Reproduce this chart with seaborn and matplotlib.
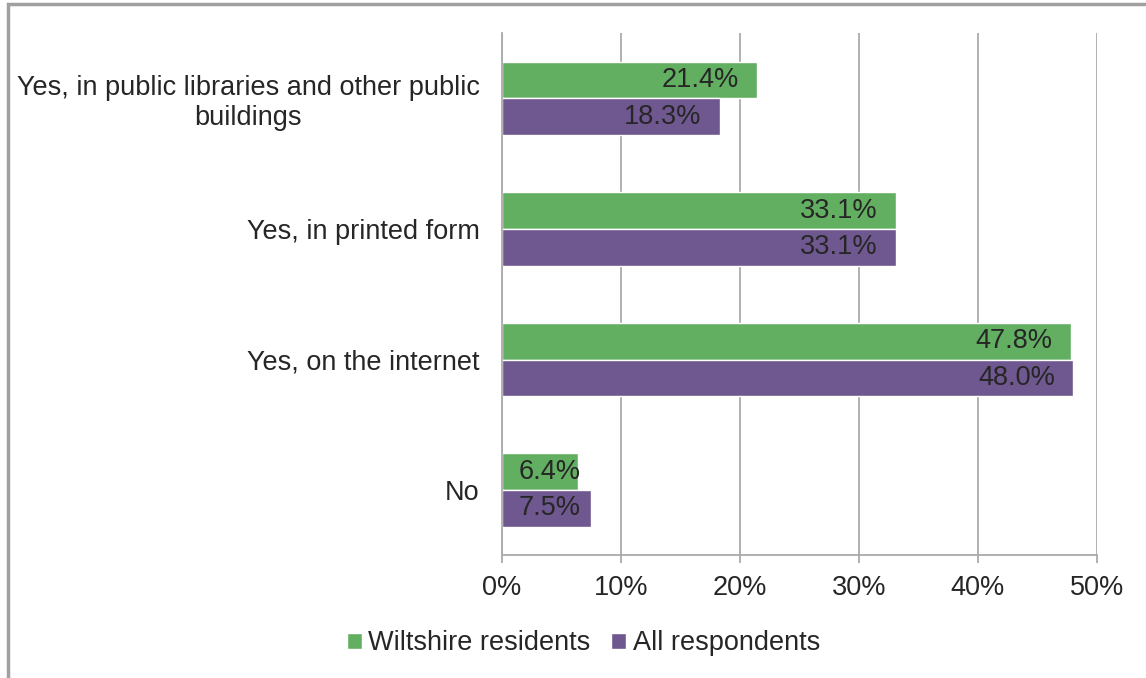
import matplotlib
matplotlib.use("Agg")
import matplotlib.pyplot as plt
import seaborn as sns
import pandas as pd
from matplotlib.patches import Rectangle

# --- DATA ---
categories = [
    "Yes, in public libraries and other public\nbuildings",
    "Yes, in printed form",
    "Yes, on the internet",
    "No",
]
series_names = ["Wiltshire residents", "All respondents"]
wiltshire = [21.4, 33.1, 47.8, 6.4]
all_resp = [18.3, 33.1, 48.0, 7.5]
x_ticks = [0, 10, 20, 30, 40, 50]
x_labels = ["0%", "10%", "20%", "30%", "40%", "50%"]

colors = ["#63AF62", "#6F578F"]
grid_col = "#AAAAAA"
text_col = "#262626"
FS = 19.5

df = pd.DataFrame({
    "category": categories * 2,
    "series": [series_names[0]] * 4 + [series_names[1]] * 4,
    "value": wiltshire + all_resp,
})

sns.set_theme(style="white")
plt.rcParams["font.family"] = ["Liberation Sans", "DejaVu Sans"]

fig = plt.figure(figsize=(11.46, 6.78), dpi=100)
ax = fig.add_axes([0.438, 0.181, 0.519, 0.770])

sns.barplot(data=df, y="category", x="value", hue="series", order=categories,
            hue_order=series_names, palette=colors, width=0.56, saturation=1,
            orient="h", ax=ax, legend=True)

ax.set_xlim(0, 50)
ax.set_ylim(3.5, -0.5)
ax.set_xticks(x_ticks)
ax.set_xticklabels(x_labels, fontsize=FS, color=text_col)
ax.set_yticks(range(len(categories)))
ax.set_yticklabels(categories, fontsize=FS, color=text_col, ha="right",
                   multialignment="center")
ax.tick_params(axis="y", length=0, pad=16)
ax.set_yticks([-0.5, 0.5, 1.5, 2.5, 3.5], minor=True)
ax.tick_params(axis="y", which="minor", length=5, color=grid_col, width=1.3)
ax.tick_params(axis="x", length=6, color=grid_col, width=1.3, pad=8, bottom=True)
ax.set_xlabel("")
ax.set_ylabel("")

ax.grid(axis="x", color=grid_col, linewidth=1.3)
ax.set_axisbelow(True)
for side in ["top", "right"]:
    ax.spines[side].set_visible(False)
for side in ["left", "bottom"]:
    ax.spines[side].set_color(grid_col)
    ax.spines[side].set_linewidth(1.3)

# inside-end labels; short bars keep the label clear of the axis
labels_txt = []
for cont in ax.containers:
    labels_txt += ax.bar_label(cont, labels=[f"{v:.1f}%" for v in cont.datavalues],
                               padding=-13, fontsize=FS, color=text_col)
for t in labels_txt:
    t.set_horizontalalignment("right")

fig.canvas.draw()
renderer = fig.canvas.get_renderer()
x0_px = ax.transData.transform((0, 0))[0]
min_gap = 17  # px between axis and label
for t in labels_txt:
    bb = t.get_window_extent(renderer)
    if bb.x0 < x0_px + min_gap:
        shift_pt = (x0_px + min_gap - bb.x0) * 72 / fig.dpi
        ox, oy = t.xyann
        t.xyann = (ox + shift_pt, oy)

handles, labels = ax.get_legend_handles_labels()
ax.get_legend().remove()
fig.legend(handles, labels, loc="center", bbox_to_anchor=(0.509, 0.051), ncol=2,
           frameon=False, fontsize=FS, handlelength=0.55, handleheight=0.55,
           handletextpad=0.25, columnspacing=0.75, labelcolor=text_col)

fig.patches.append(Rectangle((0.007, -0.01), 1.05, 1.004, transform=fig.transFigure,
                             fill=False, edgecolor="#A0A0A0", linewidth=2.5))

fig.savefig("out.png", dpi=100)
